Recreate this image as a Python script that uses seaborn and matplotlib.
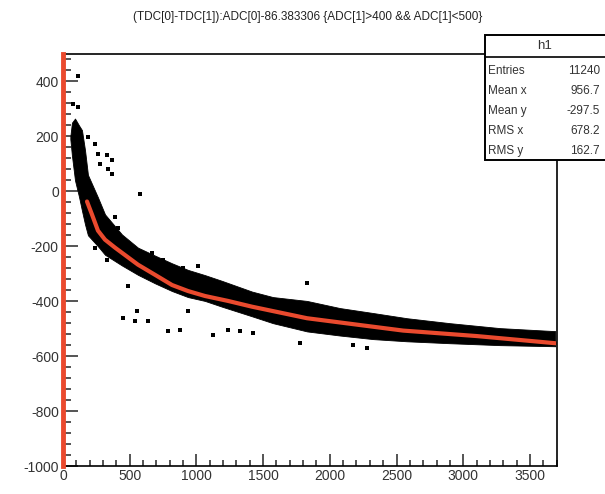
import matplotlib
matplotlib.use("Agg")
import matplotlib.pyplot as plt
import seaborn as sns
import pandas as pd
from matplotlib.patches import Rectangle
from matplotlib.ticker import MultipleLocator

# ---- data ----
title_text = "(TDC[0]-TDC[1]):ADC[0]-86.383306 {ADC[1]>400 && ADC[1]<500}"

# fitted curve (red)
fit_x = [180, 217, 262, 315, 390, 562, 690, 817, 937, 1064, 1237, 1417, 1829, 2550, 3103, 3690]
fit_y = [-37, -84, -143, -176, -205, -267, -304, -341, -363, -381, -399, -420, -462, -507, -527, -553]

# dense band of entries (upper / lower envelope)
band_x = [55, 67, 90, 120, 142, 165, 187, 262, 315, 442, 562, 690, 817, 937, 1064, 1192,
          1417, 1574, 1829, 2076, 2324, 2579, 2900, 3276, 3690]
band_upper = [200, 250, 265, 240, 223, 150, 60, -22, -84, -157, -205, -234, -262, -286, -305,
              -326, -365, -385, -399, -425, -443, -462, -480, -498, -509]
band_lower = [190, 130, 40, -20, -70, -120, -160, -200, -231, -270, -304, -335, -363, -385,
              -399, -420, -455, -480, -510, -525, -538, -546, -553, -560, -564]

# isolated entries
out_x = [112, 75, 112, 187, 240, 262, 330, 367, 337, 367, 277, 577, 390, 412, 240, 330, 487,
         450, 540, 555, 787, 877, 937, 1124, 1237, 1327, 1424, 667, 750, 900, 1012, 1237,
         1364, 1829, 2279, 2174, 637, 1777]
out_y = [421, 319, 308, 198, 172, 136, 132, 113, 81, 62, 99, -11, -95, -132, -205, -249, -344,
         -461, -472, -436, -509, -505, -436, -524, -505, -509, -516, -223, -249, -278, -271,
         -352, -381, -333, -571, -560, -472, -553]

stats_labels = ["Entries", "Mean x", "Mean y", "RMS x", "RMS y"]
stats_values = ["11240", "956.7", "-297.5", "678.2", "162.7"]
hist_name = "h1"

x_ticks = [0, 500, 1000, 1500, 2000, 2500, 3000, 3500]
y_ticks = [-1000, -800, -600, -400, -200, 0, 200, 400]

# ---- plot ----
sns.set_style("ticks")
plt.rcParams['font.family'] = ['Liberation Sans', 'DejaVu Sans']

W, H = 605, 494
fig = plt.figure(figsize=(W / 100, H / 100), dpi=100)
ax = fig.add_axes([63 / W, 1 - 466 / H, (557 - 63) / W, (466 - 54) / H])

red = "#ea4a2e"
ax.fill_between(band_x, band_lower, band_upper, color="black", linewidth=0.6, edgecolor="black")
sns.scatterplot(x=out_x, y=out_y, ax=ax, color="black", marker="s", s=5, linewidth=0)
sns.lineplot(data=pd.DataFrame({"x": fit_x, "y": fit_y}), x="x", y="y", ax=ax,
             color=red, linewidth=3, sort=True)

ax.set_xlim(0, 3703)
ax.set_ylim(-1000, 500)
ax.set_xlabel("")
ax.set_ylabel("")
ax.set_xticks(x_ticks)
ax.set_yticks(y_ticks)
ax.set_xticklabels([str(v) for v in x_ticks])
ax.set_yticklabels([str(v) for v in y_ticks])
ax.xaxis.set_minor_locator(MultipleLocator(100))
ax.yaxis.set_minor_locator(MultipleLocator(40))

ax.tick_params(axis="x", which="major", direction="in", length=8.5, width=1.1,
               labelsize=10, labelcolor="#333333", pad=2, top=False)
ax.tick_params(axis="x", which="minor", direction="in", length=4.5, width=1.1, top=False)
ax.tick_params(axis="y", which="major", direction="in", length=11, width=1.1,
               labelsize=10, labelcolor="#333333", pad=3, right=False)
ax.tick_params(axis="y", which="minor", direction="in", length=5.5, width=1.1, right=False)

for s in ["top", "right", "bottom"]:
    ax.spines[s].set_visible(True)
    ax.spines[s].set_color("black")
    ax.spines[s].set_linewidth(1.2)
ax.spines["left"].set_color(red)
ax.spines["left"].set_linewidth(3.5)
ax.spines["left"].set_zorder(5)

# title
fig.text(0.5 * (100 + 515) / W, 1 - 17 / H, title_text, ha="center", va="center",
         fontsize=8.5, color="#222222")

# stats box
bx0, by_top, by_bot = 485, 35, 160
fig.add_artist(Rectangle((bx0 / W, 1 - by_bot / H), (W - bx0 + 10) / W, (by_bot - by_top) / H,
                         transform=fig.transFigure, facecolor="white", edgecolor="black",
                         linewidth=1.4, zorder=10, clip_on=False))
fig.add_artist(plt.Line2D([bx0 / W, 1], [1 - 57 / H, 1 - 57 / H], transform=fig.transFigure,
                          color="black", linewidth=1.2, zorder=11))
fig.text(545 / W, 1 - 46 / H, hist_name, ha="center", va="center", fontsize=9.5,
         color="#333333", zorder=12)
row_y = [71, 91, 111, 131, 151]
for lab, val, yy in zip(stats_labels, stats_values, row_y):
    fig.text(488 / W, 1 - yy / H, lab, ha="left", va="center", fontsize=8.5,
             color="#333333", zorder=12)
    fig.text(600 / W, 1 - yy / H, val, ha="right", va="center", fontsize=8.5,
             color="#333333", zorder=12)

fig.savefig("out.png", dpi=100)
